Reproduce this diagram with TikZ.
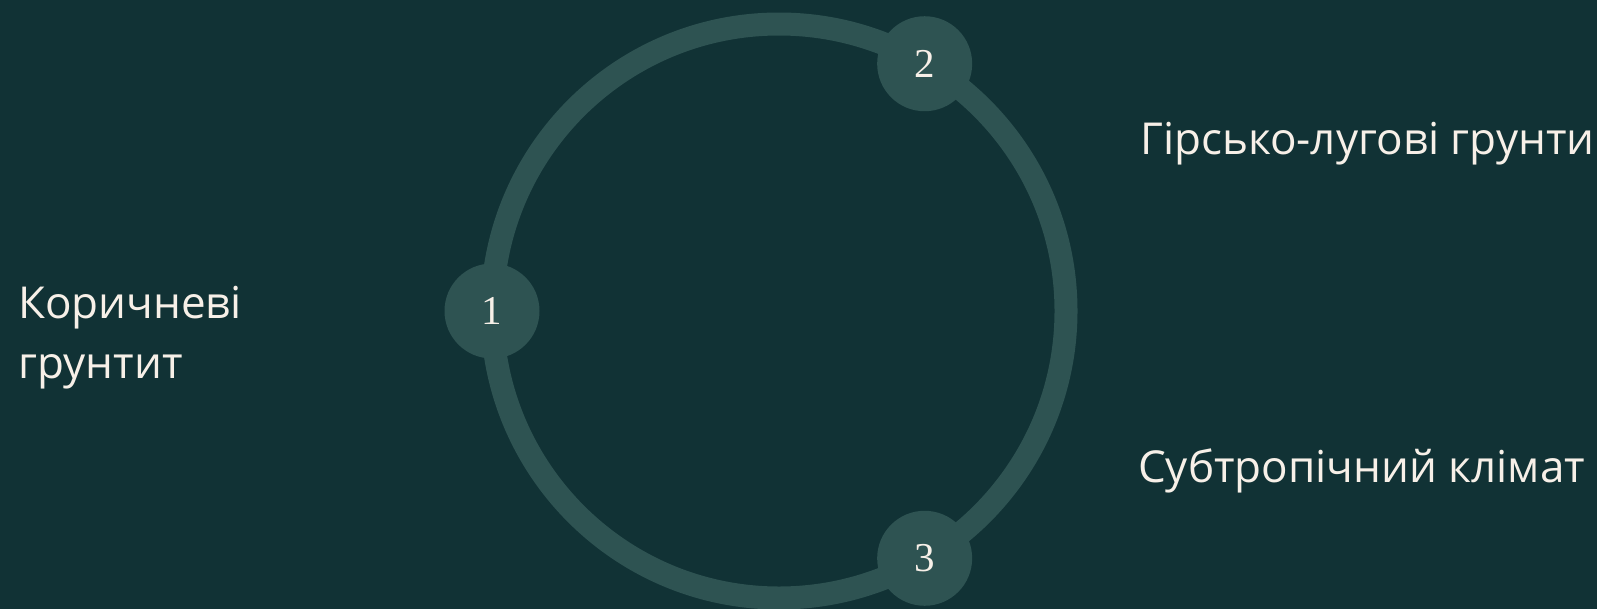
\documentclass[tikz,border=0pt]{standalone}
\usepackage{fontspec}
\usetikzlibrary{calc}
\setmainfont{Open Sans}
\newfontfamily\digitfont{Liberation Serif}
\definecolor{bgc}{HTML}{113235}
\definecolor{ringc}{HTML}{2E5352}
\definecolor{txtc}{HTML}{F7F0E8}
\begin{document}
\begin{tikzpicture}[x=1pt,y=1pt,
  stepdot/.style={circle,fill=ringc,minimum size=95pt,inner sep=0pt,text=txtc,font=\digitfont\fontsize{41}{41}\selectfont},
  lbl/.style={text=txtc,font=\fontsize{44}{60}\selectfont,inner sep=0pt,align=left}]
\useasboundingbox (0,0) rectangle (1597,-608);
\clip (0,0) rectangle (1597,-608);
\fill[bgc] (-5,5) rectangle (1602,-613);
\coordinate (c) at (779,-311);
\draw[ringc,line width=23pt] (c) circle (287);
\node[stepdot] (n1) at ($(c)+(180:287)$) {1};
\node[stepdot] (n2) at ($(c)+(59.5:287)$) {2};
\node[stepdot] (n3) at ($(c)+(-59.5:287)$) {3};
\node[lbl,anchor=base west] (t1) at (18,-378) {Коричневі\\грунтит};
\node[lbl,anchor=base west] (t2) at (1140,-154) {Гірсько-лугові грунти};
\node[lbl,anchor=base west] (t3) at (1138,-482) {Субтропічний клімат};
\end{tikzpicture}
\end{document}
